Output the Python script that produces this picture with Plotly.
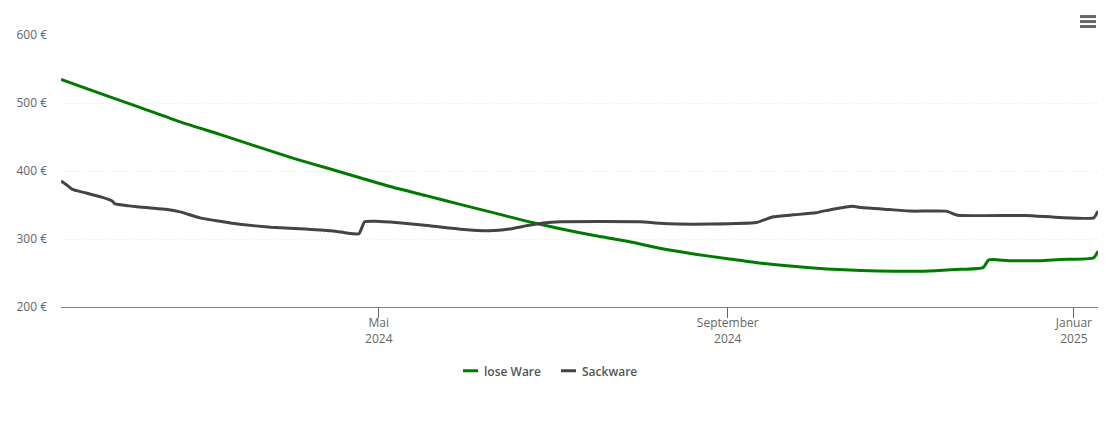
import plotly.graph_objects as go

# values
lose_dates = ["2024-01-10", "2024-01-24", "2024-02-07", "2024-02-21", "2024-03-06", "2024-03-20",
              "2024-04-01", "2024-04-13", "2024-04-25", "2024-05-06", "2024-05-18", "2024-05-30",
              "2024-06-11", "2024-06-22", "2024-07-04", "2024-07-16", "2024-07-28", "2024-08-08",
              "2024-08-20", "2024-09-01", "2024-09-12", "2024-09-24", "2024-10-06", "2024-10-18",
              "2024-10-30", "2024-11-11", "2024-11-22", "2024-11-30", "2024-12-02", "2024-12-09",
              "2024-12-20", "2024-12-27", "2025-01-08", "2025-01-09 12:00"]
lose_prices = [534.8, 513.9, 493.3, 472.2, 453.8, 434.7,
               418.6, 404, 389.3, 376.1, 363.4, 350.6,
               338, 326.3, 315, 305.2, 296.4, 286.4,
               278, 271, 264.8, 259.8, 256, 253.5,
               252.5, 253, 255.4, 257.9, 269.2, 268.1,
               268.1, 270, 272.5, 282]

sack_dates = ["2024-01-10", "2024-01-12", "2024-01-14", "2024-01-18", "2024-01-24", "2024-01-28",
              "2024-01-29", "2024-02-03", "2024-02-10", "2024-02-16", "2024-02-21", "2024-02-28",
              "2024-03-06", "2024-03-13", "2024-03-24", "2024-04-03", "2024-04-14", "2024-04-19",
              "2024-04-24", "2024-04-26", "2024-04-30", "2024-05-08", "2024-05-19", "2024-05-30",
              "2024-06-09", "2024-06-16", "2024-06-22", "2024-06-28", "2024-07-04", "2024-08-01",
              "2024-08-08", "2024-08-14", "2024-08-26", "2024-09-11", "2024-09-17", "2024-09-24",
              "2024-10-02", "2024-10-08", "2024-10-15", "2024-10-18", "2024-10-28", "2024-11-05",
              "2024-11-17", "2024-11-21", "2024-12-15", "2024-12-27", "2025-01-08", "2025-01-09 12:00"]
sack_prices = [385.3, 379.5, 372.9, 368.5, 361.9, 356,
               351.6, 348.7, 345.8, 343.6, 339.9, 331.1,
               326, 321.6, 317.2, 315, 312, 309.2,
               307.7, 325.3, 326, 323.8, 319.4, 314.3,
               312, 314.6, 319.4, 323.4, 325.3, 325.3,
               323, 321.9, 321.9, 324.2, 332.6, 335.5,
               338.5, 343.9, 348.3, 346.2, 343.3, 341,
               341, 335, 334.5, 331.6, 331, 341]

x_ticks = ["2024-05-01", "2024-09-01", "2025-01-01"]
x_labels = ["Mai<br>2024", "September<br>2024", "Januar<br>2025"]
y_ticks = [200, 300, 400, 500, 600]
y_labels = ["200 €", "300 €", "400 €", "500 €", "600 €"]

FONT = "Open Sans"
GREY = "#666666"
GREEN = "#007a00"
DARK = "#434348"


def px_x(px):
    return (px - 61) / 1037


def px_y(py):
    return (307.5 - py) / 273


fig = go.Figure()
fig.add_trace(go.Scatter(x=lose_dates, y=lose_prices, name="lose Ware", mode="lines",
                         line=dict(color=GREEN, width=3, shape="spline", smoothing=0.6)))
fig.add_trace(go.Scatter(x=sack_dates, y=sack_prices, name="Sackware", mode="lines",
                         line=dict(color=DARK, width=3, shape="spline", smoothing=0.4)))

fig.update_xaxes(range=["2024-01-10", "2025-01-09 12:00"], tickmode="array", tickvals=x_ticks,
                 ticktext=x_labels, ticks="outside", ticklen=10, tickcolor=GREY, tickwidth=1,
                 ticklabelstandoff=-5, showgrid=False, showline=True, linecolor="#808080", linewidth=1,
                 automargin=False, tickfont=dict(family=FONT, size=12, color=GREY))
fig.update_yaxes(range=[200, 600], tickmode="array", tickvals=y_ticks, ticktext=y_labels,
                 showgrid=True, gridcolor="#e6e6e6", griddash="1px,2px", gridwidth=1,
                 zeroline=False, showline=False, ticks="", ticklabelstandoff=13,
                 automargin=False, tickfont=dict(family=FONT, size=12, color=GREY))

# burger menu, top right
for py in [16, 21, 26]:
    fig.add_shape(type="line", xref="paper", yref="paper",
                  x0=px_x(1080), x1=px_x(1096), y0=px_y(py), y1=px_y(py),
                  line=dict(color=GREY, width=3))

# legend with the short line samples of the original
for name, color, line_x, text_x in [("lose Ware", GREEN, 463, 484), ("Sackware", DARK, 561, 582)]:
    fig.add_shape(type="line", xref="paper", yref="paper",
                  x0=px_x(line_x), x1=px_x(line_x + 15), y0=px_y(371.5), y1=px_y(371.5),
                  line=dict(color=color, width=3))
    fig.add_annotation(text=name, xref="paper", yref="paper", x=px_x(text_x), y=px_y(372),
                       xanchor="left", yanchor="middle", showarrow=False, borderpad=0, borderwidth=0,
                       font=dict(family=FONT, size=12, color="#555555", weight=600))

# page keeps an 8px body margin, so the figure is 8px smaller than the window
fig.update_layout(
    width=1102, height=414, margin=dict(l=53, r=12, t=26.5, b=114.5),
    plot_bgcolor="white", paper_bgcolor="white", hovermode="x", showlegend=False,
)

fig.write_html("out.html")
